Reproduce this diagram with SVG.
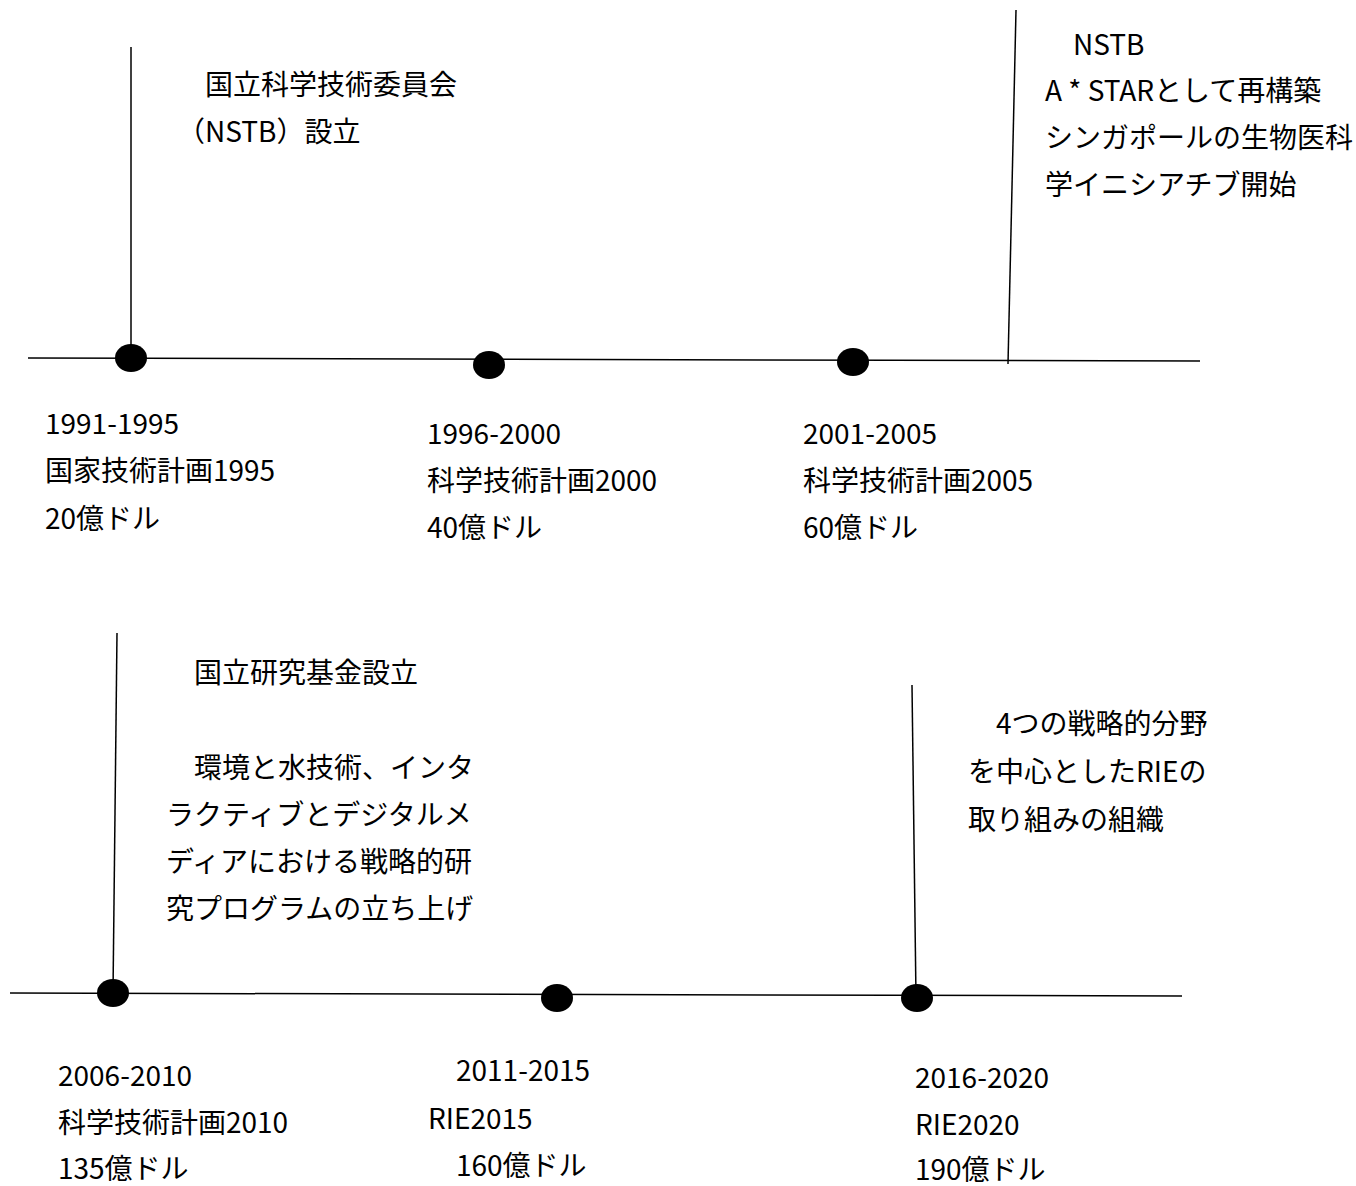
<svg xmlns="http://www.w3.org/2000/svg" width="1356" height="1186" viewBox="0 0 1356 1186">
<style>
  text { font-family: "Noto Sans CJK JP", "Noto Sans", sans-serif; font-size: 28px; fill: #000; }
  .ln { stroke: #000; stroke-width: 1.5; fill: none; }
  .dot { fill: #000; }
</style>
<rect width="1356" height="1186" fill="#fff"/>
<g id="connectors">
  <line class="ln" x1="28" y1="358" x2="1200" y2="361"/>
  <line class="ln" x1="131" y1="47" x2="131" y2="357"/>
  <line class="ln" x1="1016" y1="10" x2="1008" y2="364"/>
  <line class="ln" x1="10" y1="993" x2="1182" y2="996"/>
  <line class="ln" x1="117" y1="633" x2="113" y2="993"/>
  <line class="ln" x1="912" y1="685" x2="916" y2="998"/>
</g>
<g id="p1991">
  <ellipse class="dot" cx="131" cy="358" rx="16" ry="14"/>
  <text x="45" y="434">1991-1995</text>
  <text x="45" y="481">国家技術計画1995</text>
  <text x="45" y="529">20億ドル</text>
</g>
<g id="p1996">
  <ellipse class="dot" cx="489" cy="365" rx="16" ry="14"/>
  <text x="427" y="444">1996-2000</text>
  <text x="427" y="491">科学技術計画2000</text>
  <text x="427" y="538">40億ドル</text>
</g>
<g id="p2001">
  <ellipse class="dot" cx="853" cy="362" rx="16" ry="14"/>
  <text x="803" y="444">2001-2005</text>
  <text x="803" y="491">科学技術計画2005</text>
  <text x="803" y="538">60億ドル</text>
</g>
<g id="e-nstb">
  <text x="177" y="95">　国立科学技術委員会</text>
  <text x="177" y="142">（NSTB）設立</text>
</g>
<g id="e-astar">
  <text x="1045" y="55">　NSTB</text>
  <text x="1045" y="101">A * STARとして再構築</text>
  <text x="1045" y="148">シンガポールの生物医科</text>
  <text x="1045" y="195">学イニシアチブ開始</text>
</g>
<g id="p2006">
  <ellipse class="dot" cx="113" cy="993" rx="16" ry="14"/>
  <text x="58" y="1086">2006-2010</text>
  <text x="58" y="1133">科学技術計画2010</text>
  <text x="58" y="1179">135億ドル</text>
</g>
<g id="p2011">
  <ellipse class="dot" cx="557" cy="998" rx="16" ry="14"/>
  <text x="428" y="1081">　2011-2015</text>
  <text x="428" y="1129">RIE2015</text>
  <text x="428" y="1176">　160億ドル</text>
</g>
<g id="p2016">
  <ellipse class="dot" cx="917" cy="998" rx="16" ry="14"/>
  <text x="915" y="1088">2016-2020</text>
  <text x="915" y="1135">RIE2020</text>
  <text x="915" y="1180">190億ドル</text>
</g>
<g id="e-nrf">
  <text x="166" y="683">　国立研究基金設立</text>
  <text x="166" y="778">　環境と水技術、インタ</text>
  <text x="166" y="825">ラクティブとデジタルメ</text>
  <text x="166" y="872">ディアにおける戦略的研</text>
  <text x="166" y="919">究プログラムの立ち上げ</text>
</g>
<g id="e-rie">
  <text x="968" y="734">　4つの戦略的分野</text>
  <text x="968" y="782">を中心としたRIEの</text>
  <text x="968" y="830">取り組みの組織</text>
</g>
</svg>
